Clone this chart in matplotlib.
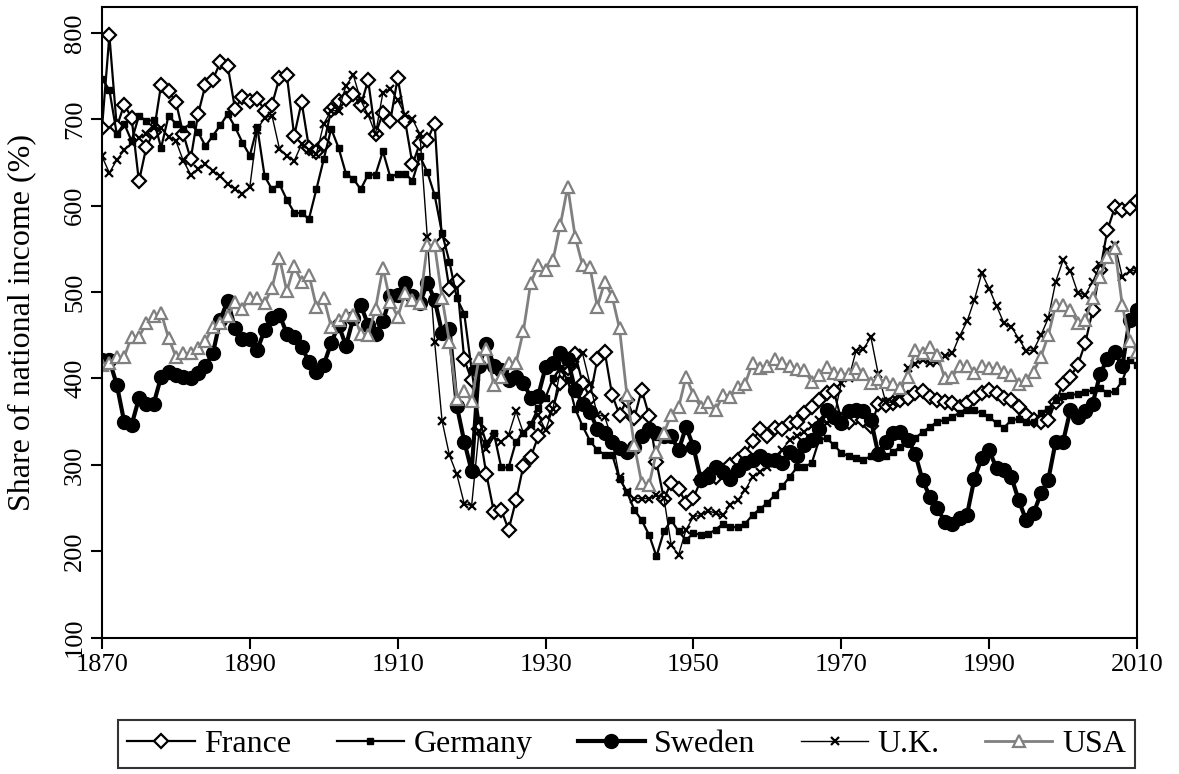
import matplotlib
matplotlib.use("Agg")
import matplotlib.pyplot as plt

plt.rcParams['font.family'] = ['Liberation Serif', 'DejaVu Serif']

years = list(range(1870, 2011))

france = [690, 797, 691, 717, 702, 628, 668, 685, 740, 733,
          720, 683, 654, 706, 740, 746, 766, 762, 712, 726,
          721, 724, 710, 717, 748, 751, 681, 720, 667, 662,
          671, 711, 721, 724, 729, 716, 745, 683, 707, 698,
          748, 698, 648, 672, 676, 695, 557, 503, 513, 422,
          398, 341, 289, 246, 248, 225, 259, 299, 309, 333,
          348, 366, 395, 412, 428, 395, 378, 422, 431, 381,
          358, 375, 354, 387, 357, 303, 261, 279, 272, 256,
          262, 282, 288, 286, 293, 300, 306, 313, 328, 341,
          333, 343, 341, 349, 350, 360, 367, 375, 383, 385,
          352, 350, 355, 352, 345, 370, 369, 372, 375, 377,
          383, 386, 379, 375, 373, 372, 367, 372, 377, 383,
          387, 383, 377, 375, 367, 358, 352, 350, 352, 373,
          394, 402, 416, 441, 479, 525, 572, 598, 595, 597,
          605]

germany = [747, 734, 683, 695, 675, 704, 698, 699, 667, 704,
           695, 689, 695, 685, 669, 681, 693, 706, 691, 673,
           658, 691, 634, 619, 625, 607, 592, 591, 585, 619,
           654, 689, 667, 637, 631, 619, 636, 636, 663, 633,
           637, 637, 629, 657, 639, 612, 568, 535, 493, 475,
           410, 352, 325, 337, 297, 297, 327, 337, 347, 366,
           378, 400, 412, 398, 365, 345, 328, 317, 312, 312,
           284, 269, 248, 236, 219, 194, 223, 236, 223, 213,
           221, 219, 220, 225, 232, 228, 228, 232, 242, 249,
           256, 265, 275, 286, 297, 298, 302, 329, 331, 323,
           314, 310, 308, 306, 310, 311, 310, 315, 321, 325,
           331, 338, 344, 350, 352, 356, 360, 363, 363, 360,
           356, 348, 343, 352, 353, 350, 350, 360, 365, 375,
           380, 381, 382, 384, 387, 389, 383, 385, 397, 421,
           416]

sweden = [421, 421, 393, 350, 346, 377, 371, 371, 402, 408,
          404, 402, 400, 406, 415, 429, 468, 490, 458, 446,
          446, 433, 456, 470, 474, 452, 448, 437, 419, 408,
          416, 441, 462, 438, 470, 485, 462, 452, 466, 495,
          497, 511, 495, 487, 511, 491, 453, 457, 368, 327,
          293, 415, 440, 415, 410, 398, 402, 395, 378, 380,
          413, 418, 429, 422, 387, 371, 361, 342, 337, 327,
          319, 315, 321, 333, 341, 337, 333, 333, 317, 344,
          321, 283, 286, 298, 292, 284, 294, 302, 306, 310,
          306, 306, 302, 315, 310, 323, 329, 342, 364, 356,
          348, 362, 364, 362, 352, 313, 327, 337, 338, 329,
          313, 282, 263, 250, 234, 232, 238, 242, 284, 308,
          317, 296, 294, 286, 259, 236, 244, 267, 283, 327,
          327, 364, 356, 362, 371, 405, 423, 431, 414, 468,
          479]

uk = [657, 638, 653, 664, 672, 678, 683, 690, 690, 680,
      675, 652, 636, 642, 648, 640, 634, 625, 619, 613,
      622, 688, 702, 704, 666, 658, 652, 671, 665, 660,
      695, 710, 710, 739, 751, 722, 705, 683, 731, 735,
      722, 705, 700, 683, 564, 442, 351, 311, 289, 255,
      253, 339, 318, 332, 327, 335, 362, 337, 345, 358,
      340, 365, 410, 414, 416, 429, 394, 358, 356, 329,
      286, 269, 261, 261, 261, 265, 262, 207, 196, 225,
      240, 242, 247, 244, 242, 254, 259, 271, 286, 292,
      298, 302, 317, 329, 333, 338, 345, 352, 348, 355,
      395, 400, 432, 434, 448, 405, 373, 372, 380, 412,
      417, 421, 418, 419, 426, 429, 449, 466, 491, 522,
      504, 484, 464, 460, 446, 432, 433, 450, 470, 512,
      537, 524, 499, 497, 512, 531, 549, 555, 518, 524,
      526]

usa = [416, 418, 425, 425, 448, 448, 464, 472, 476, 447,
       425, 429, 429, 435, 443, 460, 464, 472, 489, 481,
       493, 493, 487, 505, 540, 501, 530, 512, 520, 483,
       493, 460, 468, 474, 474, 452, 450, 481, 528, 489,
       471, 499, 491, 487, 554, 554, 493, 442, 376, 386,
       374, 424, 434, 392, 402, 418, 418, 455, 511, 531,
       525, 537, 578, 622, 564, 531, 529, 483, 512, 495,
       458, 381, 323, 279, 277, 315, 337, 358, 367, 402,
       381, 367, 373, 363, 381, 379, 390, 394, 418, 412,
       414, 423, 418, 414, 411, 410, 396, 404, 413, 406,
       405, 405, 412, 405, 395, 399, 396, 394, 389, 402,
       433, 429, 437, 427, 400, 402, 414, 414, 406, 414,
       412, 412, 408, 404, 394, 398, 408, 425, 450, 485,
       485, 479, 464, 468, 493, 518, 541, 551, 485, 443,
       431]

x_ticks = [1870, 1890, 1910, 1930, 1950, 1970, 1990, 2010]
y_ticks = [100, 200, 300, 400, 500, 600, 700, 800]

fig = plt.figure(figsize=(11.79, 7.74), dpi=100)
ax = fig.add_axes([0.0865, 0.1761, 0.8779, 0.8149])

grey = '#808080'
ax.plot(years, france, color='black', lw=1.6, marker='D', ms=7,
        mfc='white', mec='black', mew=1.6, label='France')
ax.plot(years, germany, color='black', lw=1.6, marker='s', ms=4,
        mfc='black', mec='black', label='Germany')
ax.plot(years, sweden, color='black', lw=3, marker='o', ms=10,
        mfc='black', mec='black', label='Sweden')
ax.plot(years, uk, color='black', lw=1, marker='x', ms=6,
        mew=1.6, label='U.K.')
ax.plot(years, usa, color=grey, lw=2, marker='^', ms=8,
        mfc='white', mec=grey, mew=1.6, label='USA')

ax.set_xlim(1870, 2010)
ax.set_ylim(100, 830)
ax.set_xticks(x_ticks)
ax.set_yticks(y_ticks)
ax.tick_params(direction='out', length=8, width=1.5, labelsize=19)
for lab in ax.get_yticklabels():
    lab.set_rotation(90)
    lab.set_va('center')
for s in ax.spines.values():
    s.set_linewidth(1.5)
ax.set_ylabel('Share of national income (%)', fontsize=23)
ax.yaxis.set_label_coords(-0.064, 0.5)

leg = ax.legend(loc='center', ncol=5, mode='expand', fontsize=23,
                bbox_to_anchor=(0.100, 0.002, 0.863, 0.073),
                bbox_transform=fig.transFigure, frameon=True,
                fancybox=False, handlelength=2.1, handletextpad=0.3,
                columnspacing=1.4, borderaxespad=0, borderpad=0.3)
leg.get_frame().set_edgecolor('black')
leg.get_frame().set_linewidth(1.5)

fig.savefig('out.png', dpi=100)
